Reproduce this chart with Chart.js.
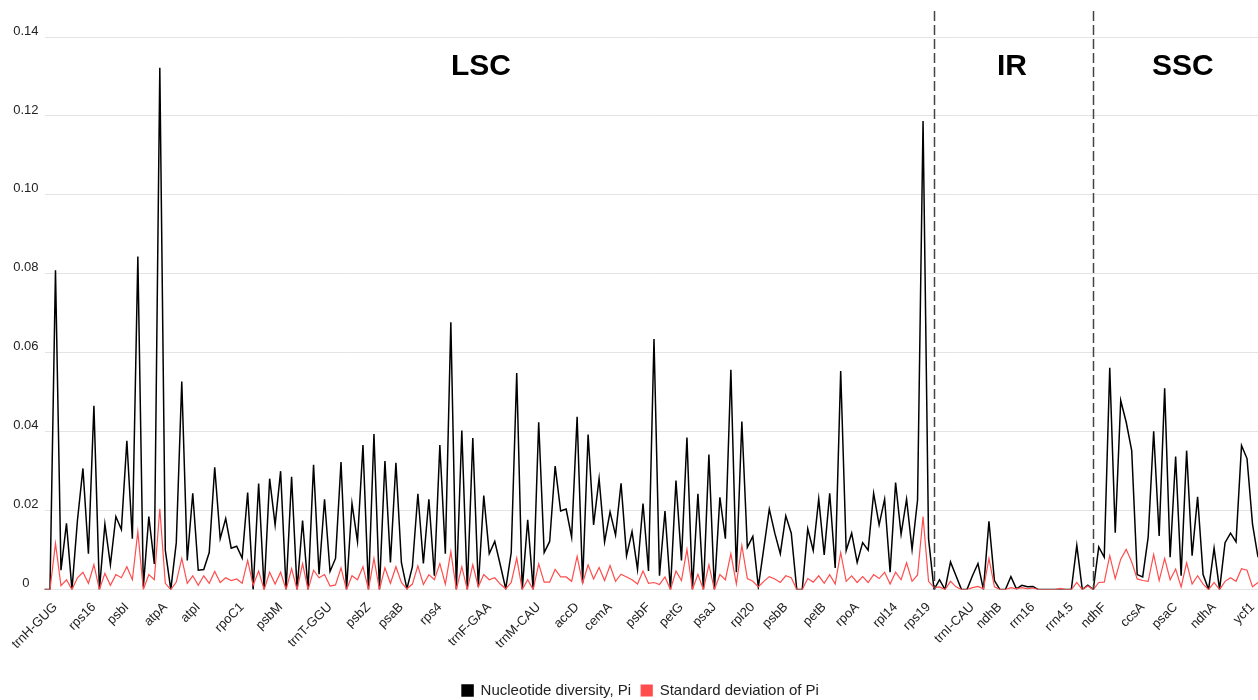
<!DOCTYPE html>
<html>
<head>
<meta charset="utf-8">
<script src="https://cdn.jsdelivr.net/npm/chart.js@4.4.1/dist/chart.umd.min.js"></script>
<style>
  html, body { margin: 0; padding: 0; background: #ffffff; }
  #wrap { width: 1258px; height: 700px; }
</style>
</head>
<body>
<div id="wrap"><canvas id="c" width="1258" height="700"></canvas></div>
<script>
// ---- data (one value per sliding window) ----
const pi = [
  0, 0, 0.0809, 0.0049, 0.0168, 0, 0.0175, 0.0307, 0.0091, 0.0466,
  0, 0.0166, 0.0063, 0.0185, 0.0152, 0.0377, 0.0129, 0.0844, 0.0007, 0.0185,
  0.0065, 0.1322, 0.0100, 0, 0.0119, 0.0527, 0.0074, 0.0244, 0.0049, 0.0051,
  0.0094, 0.0310, 0.0129, 0.0180, 0.0105, 0.0110, 0.0080, 0.0246, 0, 0.0269,
  0, 0.0281, 0.0164, 0.0300, 0, 0.0286, 0, 0.0175, 0, 0.0316,
  0.0039, 0.0229, 0.0046, 0.0079, 0.0323, 0, 0.0218, 0.0122, 0.0366, 0,
  0.0394, 0, 0.0326, 0.0069, 0.0321, 0.0068, 0.0002, 0.0058, 0.0243, 0.0066,
  0.0229, 0.0035, 0.0366, 0.0091, 0.0677, 0, 0.0403, 0, 0.0384, 0.0007,
  0.0238, 0.0091, 0.0122, 0.0063, 0.0002, 0.0094, 0.0549, 0, 0.0177, 0,
  0.0424, 0.0094, 0.0122, 0.0313, 0.0199, 0.0204, 0.0133, 0.0438, 0.0016, 0.0393,
  0.0164, 0.0281, 0.0121, 0.0197, 0.0138, 0.0269, 0.0086, 0.0147, 0.0051, 0.0218,
  0.0047, 0.0635, 0.0035, 0.0199, 0, 0.0276, 0.0074, 0.0385, 0, 0.0243,
  0, 0.0342, 0, 0.0234, 0.0129, 0.0557, 0.0044, 0.0426, 0.0107, 0.0135,
  0.0007, 0.0105, 0.0204, 0.0143, 0.0091, 0.0187, 0.0143, 0, 0, 0.0154,
  0.0099, 0.0230, 0.0088, 0.0244, 0.0055, 0.0554, 0.0099, 0.0143, 0.0069, 0.0119,
  0.0100, 0.0244, 0.0164, 0.0229, 0.0044, 0.0271, 0.0140, 0.0229, 0.0102, 0.0227,
  0.1187, 0.0129, 0, 0.0025, 0, 0.0070, 0.0035, 0, 0, 0.0035,
  0.0066, 0, 0.0173, 0.0023, 0, 0, 0.0033, 0.0002, 0.0011, 0.0007,
  0.0008, 0, 0, 0, 0, 0, 0, 0, 0.0112, 0,
  0.0011, 0, 0.0108, 0.0082, 0.0562, 0.0144, 0.0479, 0.0424, 0.0352, 0.0038,
  0.0032, 0.0133, 0.0401, 0.0136, 0.0510, 0.0082, 0.0337, 0.0035, 0.0352, 0.0086,
  0.0235, 0.0038, 0, 0.0105, 0, 0.0119, 0.0143, 0.0121, 0.0365, 0.0332,
  0.0166, 0.0082
];
const sd = [
  0, 0, 0.0117, 0.0010, 0.0025, 0, 0.0030, 0.0044, 0.0016, 0.0063,
  0, 0.0041, 0.0011, 0.0038, 0.0030, 0.0058, 0.0025, 0.0147, 0, 0.0038,
  0.0025, 0.0205, 0.0016, 0, 0.0019, 0.0079, 0.0016, 0.0035, 0.0011, 0.0035,
  0.0016, 0.0046, 0.0018, 0.0030, 0.0023, 0.0027, 0.0016, 0.0074, 0.0011, 0.0047,
  0, 0.0044, 0.0014, 0.0044, 0, 0.0053, 0, 0.0066, 0, 0.0049,
  0.0030, 0.0038, 0.0009, 0.0012, 0.0055, 0, 0.0035, 0.0025, 0.0058, 0,
  0.0079, 0, 0.0055, 0.0016, 0.0058, 0.0018, 0.0002, 0.0014, 0.0060, 0.0013,
  0.0038, 0.0025, 0.0066, 0.0014, 0.0096, 0, 0.0058, 0, 0.0063, 0.0007,
  0.0038, 0.0025, 0.0030, 0.0014, 0.0002, 0.0018, 0.0080, 0, 0.0025, 0,
  0.0065, 0.0019, 0.0019, 0.0051, 0.0032, 0.0032, 0.0021, 0.0084, 0.0016, 0.0063,
  0.0027, 0.0056, 0.0023, 0.0061, 0.0021, 0.0039, 0.0032, 0.0025, 0.0014, 0.0047,
  0.0016, 0.0018, 0.0013, 0.0032, 0, 0.0047, 0.0023, 0.0102, 0, 0.0039,
  0, 0.0063, 0, 0.0038, 0.0025, 0.0091, 0.0014, 0.0112, 0.0028, 0.0021,
  0.0007, 0.0021, 0.0033, 0.0027, 0.0018, 0.0035, 0.0030, 0, 0, 0.0028,
  0.0019, 0.0035, 0.0016, 0.0038, 0.0014, 0.0094, 0.0021, 0.0035, 0.0018, 0.0033,
  0.0018, 0.0038, 0.0028, 0.0044, 0.0014, 0.0044, 0.0025, 0.0068, 0.0021, 0.0037,
  0.0185, 0.0021, 0.0005, 0.0007, 0, 0.0021, 0.0007, 0, 0, 0.0005,
  0.0008, 0.0002, 0.0079, 0.0007, 0, 0, 0.0005, 0.0002, 0.0005, 0.0002,
  0.0004, 0, 0, 0, 0, 0.0003, 0, 0, 0.0018, 0,
  0.0009, 0, 0.0018, 0.0019, 0.0086, 0.0028, 0.0077, 0.0102, 0.0070, 0.0027,
  0.0023, 0.0021, 0.0089, 0.0023, 0.0079, 0.0025, 0.0052, 0.0007, 0.0068, 0.0014,
  0.0035, 0.0014, 0, 0.0018, 0, 0.0021, 0.0030, 0.0021, 0.0053, 0.0049,
  0.0007, 0.0018
];
// gene names shown on the category axis and the window each one labels
const geneNames = ['trnH-GUG','rps16','psbI','atpA','atpI','rpoC1','psbM','trnT-GGU','psbZ','psaB',
  'rps4','trnF-GAA','trnM-CAU','accD','cemA','psbF','petG','psaJ','rpl20','psbB',
  'petB','rpoA','rpl14','rps19','trnI-CAU','ndhB','rrn16','rrn4.5','ndhF','ccsA',
  'psaC','ndhA','ycf1'];
const geneWindow = [2, 9, 15, 22, 28, 36, 43, 52, 59, 65,
  72, 81, 90, 97, 103, 110, 116, 122, 129, 135,
  142, 148, 155, 161, 169, 174, 180, 187, 193, 200,
  206, 213, 220];
const yTickLabels = ['0', '0.02', '0.04', '0.06', '0.08', '0.10', '0.12', '0.14'];
const regionNames = ['LSC', 'IR', 'SSC'];
const regionBoundaries = [162, 191];   // windows where IR and SSC start
const seriesNames = ['Nucleotide diversity, Pi', 'Standard deviation of Pi'];

const labels = pi.map((_, i) => {
  const k = geneWindow.indexOf(i);
  return k >= 0 ? geneNames[k] : '';
});

const FONT = "'Liberation Sans', Arial, Helvetica, sans-serif";

const regionPlugin = {
  id: 'regions',
  afterDatasetsDraw(chart, args, opts) {
    const {ctx, chartArea} = chart;
    const xs = chart.scales.x;
    ctx.save();
    ctx.strokeStyle = '#444';
    ctx.lineWidth = 1.5;
    ctx.setLineDash([10, 4]);
    regionBoundaries.forEach(b => {
      const x = Math.round(xs.getPixelForValue(b)) + 0.5;
      ctx.beginPath();
      ctx.moveTo(x, opts.lineTop);
      ctx.lineTo(x, chartArea.bottom);
      ctx.stroke();
    });
    ctx.setLineDash([]);
    ctx.fillStyle = '#000';
    ctx.font = 'bold 30px ' + FONT;
    ctx.textAlign = 'center';
    ctx.textBaseline = 'middle';
    regionNames.forEach((name, i) => {
      const x = xs.getPixelForValue(opts.labelAt[i]);
      ctx.fillText(name, x, opts.labelY);
    });
    ctx.restore();
  }
};

new Chart(document.getElementById('c'), {
  type: 'line',
  data: {
    labels: labels,
    datasets: [
      {
        label: seriesNames[0],
        data: pi,
        borderColor: '#000000',
        backgroundColor: '#000000',
        borderWidth: 1.5,
        pointRadius: 0,
        tension: 0,
        order: 1
      },
      {
        label: seriesNames[1],
        data: sd,
        borderColor: '#ff4d4d',
        backgroundColor: '#ff4d4d',
        borderWidth: 1.2,
        pointRadius: 0,
        tension: 0,
        order: 0
      }
    ]
  },
  options: {
    responsive: false,
    animation: false,
    devicePixelRatio: 1,
    layout: { padding: { top: 37, left: 23, right: 0, bottom: -8 } },
    plugins: {
      tooltip: { enabled: false },
      legend: {
        position: 'bottom',
        labels: {
          boxWidth: 11,
          boxHeight: 11,
          padding: 10,
          color: '#222',
          font: { family: FONT, size: 15 },
          sort: (a, b) => a.datasetIndex - b.datasetIndex
        }
      },
      regions: { lineTop: 11, labelY: 67, labelAt: [79.5, 176.2, 207.3] }
    },
    scales: {
      x: {
        grid: { display: false },
        border: { display: false },
        afterFit: (s) => { s.paddingLeft = 0; s.paddingRight = 0; s.height += 19; },
        ticks: {
          autoSkip: false,
          minRotation: 45,
          maxRotation: 45,
          padding: 2,
          color: '#222',
          font: { family: FONT, size: 13 }
        }
      },
      y: {
        min: 0,
        max: 0.14,
        border: { display: false },
        grid: { color: '#e4e4e4', lineWidth: 1, drawTicks: false },
        afterFit: (s) => {
          s.width = 21.5;
          s.paddingTop = 0;
          s.paddingBottom = 0;
          // let the centred tick labels run into the left margin instead of being clipped
          s._computeLabelArea = () => undefined;
        },
        ticks: {
          stepSize: 0.02,
          padding: 6,
          crossAlign: 'center',
          labelOffset: -6,
          color: '#222',
          font: { family: FONT, size: 13 },
          callback: (v, i) => yTickLabels[i]
        }
      }
    }
  },
  plugins: [regionPlugin]
});
</script>
</body>
</html>
